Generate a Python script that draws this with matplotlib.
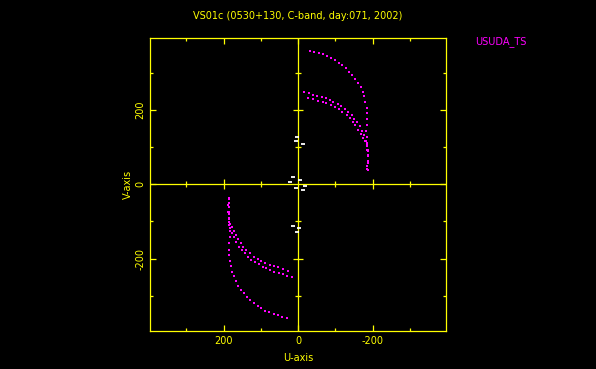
import numpy as np
import matplotlib
matplotlib.use("Agg")
import matplotlib.pyplot as plt

# uv coverage (u, v in the same units as the axes)
outer_u = [-31, -43, -55, -66, -78, -89, -100, -109, -119, -129, -137, -146,
           -153, -162, -168, -173, -178, -181, -184, -186, -186, -185, -183,
           -184, -185, -186, -187, -187, -186, -186]
outer_v = [359, 356, 352, 350, 345, 340, 334, 327, 321, 312, 303, 293,
           284, 273, 261, 248, 236, 221, 206, 191, 176, 159, 143,
           127, 110, 93, 75, 62, 50, 40]

inner_a_u = [-16, -29, -40, -52, -64, -75, -85, -95, -106, -115, -126, -134,
             -144, -151, -159, -166, -172, -178, -182, -185, -187, -188, -188, -187]
inner_a_v = [249, 246, 241, 238, 235, 231, 226, 222, 216, 210, 203, 195,
             186, 176, 168, 156, 143, 131, 117, 103, 90, 75, 56, 38]

inner_b_u = [-27, -40, -54, -66, -76, -88, -99, -109, -119, -130, -139, -148,
             -154, -162, -168, -173, -179, -184, -187, -187]
inner_b_v = [233, 228, 224, 221, 217, 213, 208, 202, 195, 186, 178, 168,
             158, 147, 136, 125, 116, 106, 92, 79]

# short baselines near the centre (drawn white)
short_u = [3, 6, -12, 15, 22, -6, 6, -19, -12, 15, -3, 2]
short_v = [126, 117, 109, 18, 7, 10, -10, -6, -17, -112, -118, -128]

major_ticks = [-200, 0, 200]
major_labels_x = ["-200", "0", "200"]
major_labels_y = ["-200", "0", "200"]
minor_ticks = [-300, -100, 100, 300]

title = "VS01c (0530+130, C-band, day:071, 2002)"
station = "USUDA_TS"

YEL = "#ffff00"
MAG = "#ff00ff"

plt.rcParams["font.family"] = "DejaVu Sans"
plt.rcParams["axes.unicode_minus"] = False

fig = plt.figure(figsize=(5.96, 3.69), dpi=100, facecolor="black")
ax = fig.add_axes([150 / 596, 1 - 331 / 369, 295.5 / 596, 293.3 / 369])
ax.set_facecolor("black")

# visibilities and their conjugates
for uu, vv in [(outer_u, outer_v), (inner_a_u, inner_a_v), (inner_b_u, inner_b_v)]:
    uu = np.array(uu)
    vv = np.array(vv)
    ax.plot(uu, vv, "s", color=MAG, ms=1.7, mew=0, zorder=3)
    ax.plot(-uu, -vv, "s", color=MAG, ms=1.7, mew=0, zorder=3)
ax.plot(short_u, short_v, "_", color="white", ms=2.4, mew=1.3, zorder=3)

ax.set_xlim(398, -396)
ax.set_ylim(-395, 394)

# zero lines with crossing ticks
ax.axhline(0, color=YEL, lw=0.9, zorder=2)
ax.axvline(0, color=YEL, lw=0.9, zorder=2)
maj_nz = [t for t in major_ticks if t != 0]
ax.plot(maj_nz, np.zeros(len(maj_nz)), "|", color=YEL, ms=7, mew=0.9, zorder=2)
ax.plot(minor_ticks, np.zeros(len(minor_ticks)), "|", color=YEL, ms=4.3, mew=0.9, zorder=2)
ax.plot(np.zeros(len(maj_nz)), maj_nz, "_", color=YEL, ms=7, mew=0.9, zorder=2)
ax.plot(np.zeros(len(minor_ticks)), minor_ticks, "_", color=YEL, ms=4.3, mew=0.9, zorder=2)

for s in ax.spines.values():
    s.set_color(YEL)
    s.set_linewidth(0.9)

ax.set_xticks(major_ticks, major_labels_x)
ax.set_yticks(major_ticks, major_labels_y, rotation=90, va="center")
ax.set_xticks(minor_ticks, minor=True)
ax.set_yticks(minor_ticks, minor=True)
ax.tick_params(which="both", direction="in", top=True, right=True,
               color=YEL, labelcolor=YEL, labelsize=7, width=0.9)
ax.tick_params(which="major", length=4.2, pad=3.5)
ax.tick_params(which="minor", length=2.4)

ax.set_xlabel("U-axis", color=YEL, fontsize=7)
ax.xaxis.set_label_coords(0.5, -0.092)
ax.xaxis.label.set_va("center")
ax.set_ylabel("V-axis", color=YEL, fontsize=7)
ax.yaxis.set_label_coords(-0.0745, 0.5)
ax.yaxis.label.set_va("center")

fig.text(298 / 596, 1 - 16 / 369, title, color=YEL, fontsize=7,
         ha="center", va="center")
fig.text(475 / 596, 1 - 42 / 369, station, color=MAG, fontsize=7,
         ha="left", va="center")

fig.savefig("out.png", dpi=100, facecolor="black")
